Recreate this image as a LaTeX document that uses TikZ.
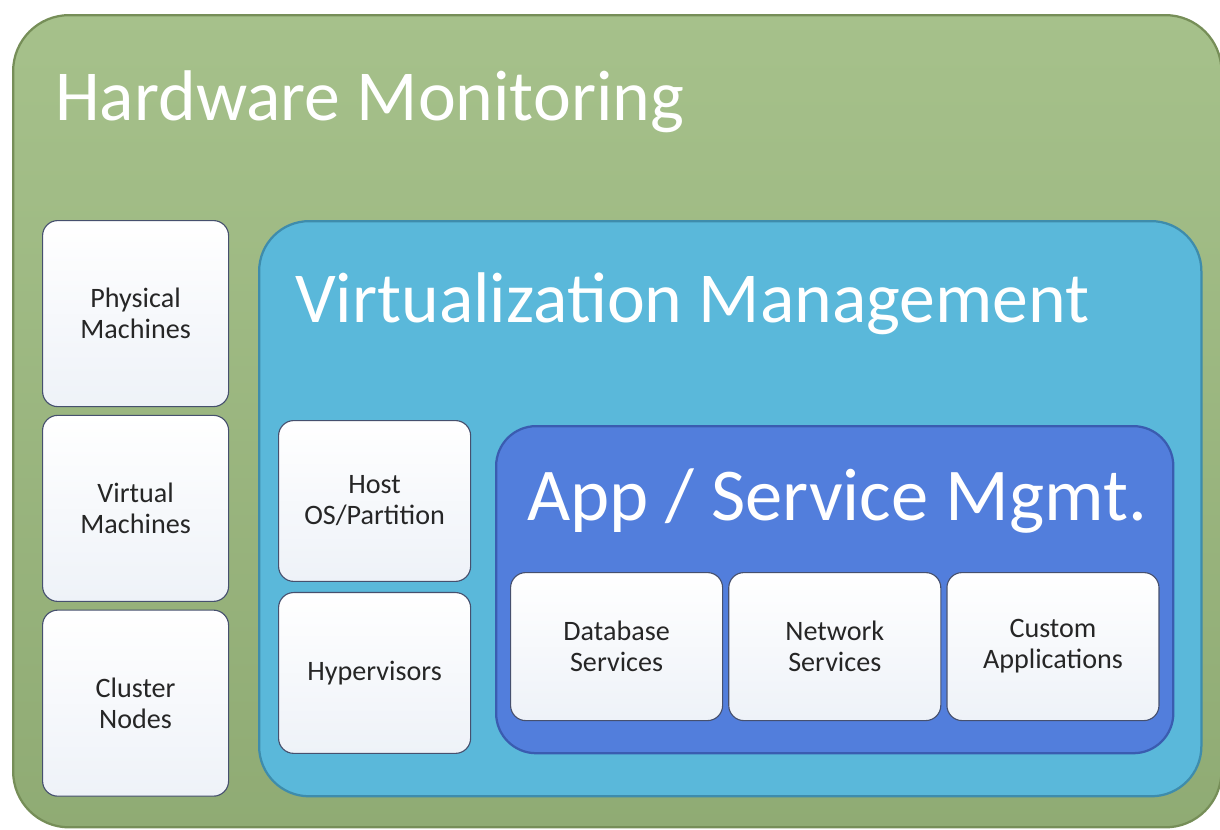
\documentclass[tikz,border=0pt]{standalone}
\usepackage{fontspec}
\setmainfont{Carlito}
\definecolor{HwGreen}{RGB}{156,186,126}
\definecolor{HwRim}{RGB}{118,142,88}
\definecolor{VmBlue}{RGB}{90,184,218}
\definecolor{VmRim}{RGB}{62,140,172}
\definecolor{AppBlue}{RGB}{82,126,220}
\definecolor{AppRim}{RGB}{58,92,176}
\definecolor{ItemFill}{RGB}{238,242,248}
\definecolor{ItemRim}{RGB}{70,80,110}
\usetikzlibrary{positioning}

\begin{document}
\begin{tikzpicture}[x=0.025cm, y=-0.025cm,
      every node/.style={font=\fontsize{20}{22}\selectfont, align=center, text=black!85},
      panel/.style={anchor=north west, line width=1.6pt, inner sep=0pt},
      hwpanel/.style={panel, rounded corners=1.4cm, top color=HwGreen!90!white, bottom color=HwGreen!92!black, draw=HwRim},
      vmpanel/.style={panel, rounded corners=1.25cm, fill=VmBlue, draw=VmRim},
      apppanel/.style={panel, rounded corners=1cm, fill=AppBlue, draw=AppRim},
      item/.style={draw=ItemRim, line width=0.8pt, rounded corners=0.38cm, top color=white, bottom color=ItemFill, inner sep=2pt},
      colbox/.style={item, minimum width=4.65cm, minimum height=4.65cm},
      osbox/.style={item, minimum width=4.8cm, minimum height=4.02cm},
      svcbox/.style={item, minimum width=5.3cm, minimum height=3.7cm},
      caption/.style={anchor=base west, inner sep=0pt, text=white, font=\fontsize{51}{58}\selectfont}
  ]
    \useasboundingbox (0,0) rectangle (1220,829);
    % containers
    \node[hwpanel, minimum width=30.2cm, minimum height=20.3cm] (hw) at (12,14) {};
    \node[vmpanel, minimum width=23.55cm, minimum height=14.375cm] (vm) at (258,220) {};
    \node[apppanel, minimum width=16.925cm, minimum height=8.175cm] (app) at (495,425) {};
    \node[caption] (hwtitle) at (55,120) {Hardware Monitoring};
    \node[caption] (vmtitle) at (295,322) {Virtualization Management};
    \node[caption, font=\fontsize{53}{60}\selectfont] (apptitle) at (527,520) {App / Service Mgmt.};
    % hardware column
    \node[colbox, anchor=north west] (phys) at (42,220) {Physical\\Machines};
    \node[colbox, below=0.19cm of phys] (virt) {Virtual\\Machines};
    \node[colbox, below=0.19cm of virt] (cluster) {Cluster\\Nodes};
    % host layer
    \node[osbox, anchor=north west] (host) at (278,420) {Host\\OS/Partition};
    \node[osbox, below=0.25cm of host] (hyper) {Hypervisors};
    % services
    \node[svcbox, anchor=north west] (db) at (510,572) {Database\\Services};
    \node[svcbox, right=0.125cm of db] (net) {Network\\Services};
    \node[svcbox, right=0.125cm of net] (custom) {Custom\\Applications};
  \end{tikzpicture}
\end{document}
